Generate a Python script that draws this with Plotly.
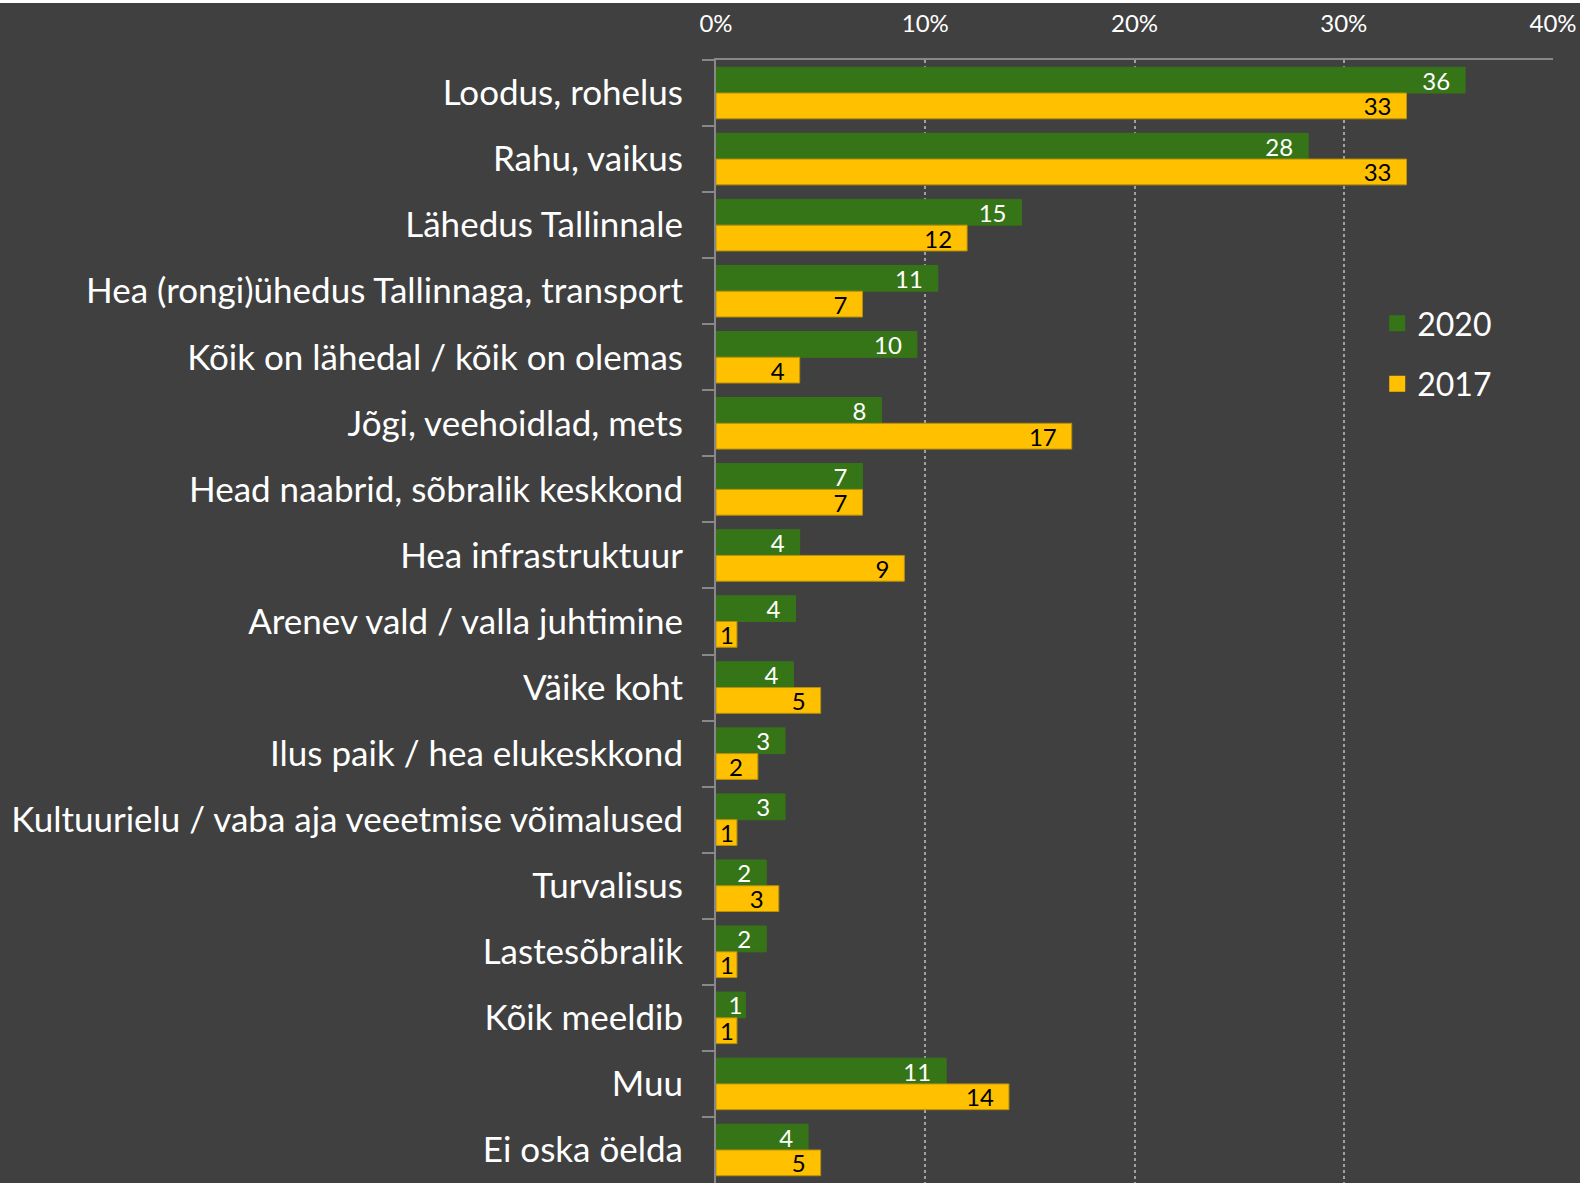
import plotly.graph_objects as go

categories = [
    "Loodus, rohelus",
    "Rahu, vaikus",
    "Lähedus Tallinnale",
    "Hea (rongi)ühedus Tallinnaga, transport",
    "Kõik on lähedal / kõik on olemas",
    "Jõgi, veehoidlad, mets",
    "Head naabrid, sõbralik keskkond",
    "Hea infrastruktuur",
    "Arenev vald / valla juhtimine",
    "Väike koht",
    "Ilus paik / hea elukeskkond",
    "Kultuurielu / vaba aja veeetmise võimalused",
    "Turvalisus",
    "Lastesõbralik",
    "Kõik meeldib",
    "Muu",
    "Ei oska öelda",
]
values_2020 = [35.8, 28.3, 14.6, 10.6, 9.6, 7.9, 7.0, 4.0, 3.8, 3.7, 3.3, 3.3, 2.4, 2.4, 1.4, 11.0, 4.4]
values_2017 = [33.0, 33.0, 12.0, 7.0, 4.0, 17.0, 7.0, 9.0, 1.0, 5.0, 2.0, 1.0, 3.0, 1.0, 1.0, 14.0, 5.0]
x_ticks = [0, 10, 20, 30, 40]
x_tick_labels = [f"{v}%" for v in x_ticks]

GREEN = "#367517"
YELLOW = "#FFC000"
BG = "#404040"
FONT = "Lato"


def bar_labels(values):
    # rounded value, with extra right padding inside wider bars
    return [f"{v:.0f}\u2002" if v >= 2 else f"{v:.0f}" for v in values]


fig = go.Figure()
fig.add_trace(go.Bar(
    name="2020", y=categories, x=values_2020, orientation="h",
    marker=dict(color=GREEN, line=dict(color=GREEN, width=1)),
    text=bar_labels(values_2020), textposition="inside", insidetextanchor="end",
    constraintext="none", textangle=0,
    textfont=dict(color="white", size=24, family=FONT),
    showlegend=False,
))
fig.add_trace(go.Bar(
    name="2017", y=categories, x=values_2017, orientation="h",
    marker=dict(color=YELLOW, line=dict(color="#B8900A", width=1)),
    text=bar_labels(values_2017), textposition="inside", insidetextanchor="end",
    constraintext="none", textangle=0,
    textfont=dict(color="black", size=24, family=FONT),
    showlegend=False,
))
# legend entries with larger square swatches
for name, col, grp in [("2020", GREEN, "a"), ("2017", YELLOW, "b")]:
    fig.add_trace(go.Scatter(
        name=name, x=[None], y=[None], mode="markers",
        marker=dict(symbol="square", size=20, color=col),
        legendgroup=grp, showlegend=True, hoverinfo="skip",
    ))

fig.update_layout(
    width=1580, height=1180,
    paper_bgcolor=BG, plot_bgcolor=BG,
    margin=dict(l=716, r=27, t=57, b=0, pad=0),
    barmode="group", bargap=0.22, bargroupgap=0,
    font=dict(family=FONT, color="white"),
    showlegend=True,
    legend=dict(
        x=0.79, y=0.79, xanchor="left", yanchor="top",
        font=dict(size=32, color="white", family=FONT),
        bgcolor="rgba(0,0,0,0)", traceorder="grouped", tracegroupgap=16,
        itemsizing="trace",
    ),
)
fig.update_xaxes(
    side="top", range=[0, 40], tickvals=x_ticks, ticktext=x_tick_labels,
    tickfont=dict(size=24, color="white", family=FONT),
    showgrid=True, gridcolor="#A0A0A0", griddash="dot", gridwidth=1.5,
    showline=True, linecolor="#888888", linewidth=2,
    ticks="outside", ticklen=0, ticklabelstandoff=16,
    zeroline=False, fixedrange=True, automargin=False,
)
fig.update_yaxes(
    autorange="reversed", type="category",
    tickfont=dict(size=35, color="white", family=FONT),
    showline=True, linecolor="#888888", linewidth=2,
    ticks="outside", ticklen=12, tickcolor="#888888", tickwidth=2,
    tickson="boundaries", ticklabelstandoff=24,
    showgrid=False, fixedrange=True, automargin=False,
)

fig.write_html(
    "out.html",
    post_script="document.body.style.margin='0';document.body.style.paddingTop='3px';",
)
